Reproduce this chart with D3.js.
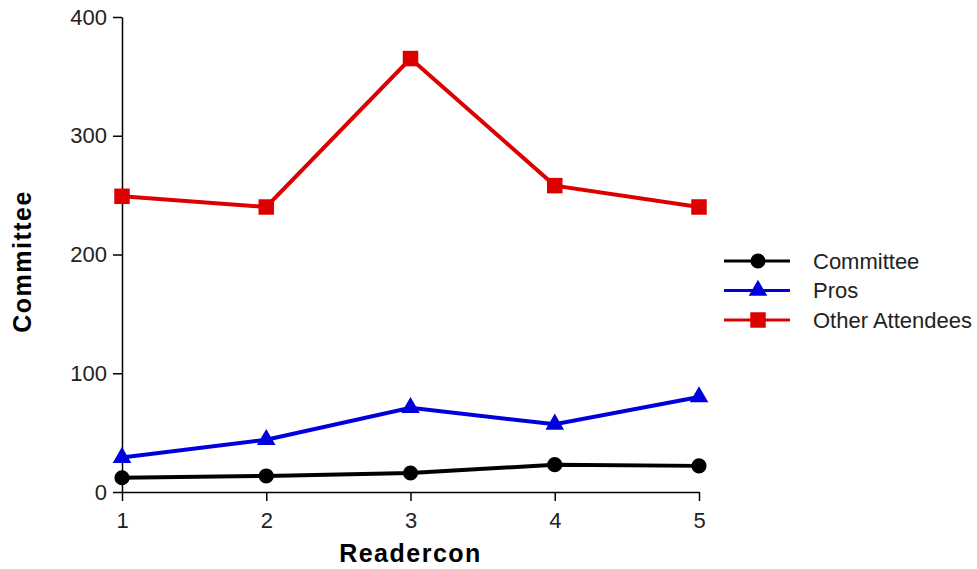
<!DOCTYPE html>
<html>
<head>
<meta charset="utf-8">
<script src="https://cdn.jsdelivr.net/npm/d3@7"></script>
<style>
  body { margin: 0; background: #fff; }
  svg text { font-family: "Liberation Sans", Arial, sans-serif; }
</style>
</head>
<body>
<div id="chart"></div>
<script>
const editions = [1, 2, 3, 4, 5];
const committee = [12, 13.5, 16, 23, 22];
const pros = [29, 44, 71, 57, 80];
const otherAttendees = [249, 240, 365, 258, 240];
const yTicks = [0, 100, 200, 300, 400];

const seriesList = [
    { name: "Committee", values: committee, color: "#000000", shape: "circle" },
    { name: "Pros", values: pros, color: "#0000dd", shape: "triangle" },
    { name: "Other Attendees", values: otherAttendees, color: "#dd0000", shape: "square" }
];

let margin = { top: 17, right: 278, bottom: 77, left: 122 };
let width = 977 - margin.left - margin.right,
    height = 569 - margin.top - margin.bottom;

var svg = d3.select("#chart").
append("svg").
attr("width", 977).
attr("height", 569).
append("g").
attr("transform", "translate(" + margin.left + "," + margin.top + ")");

var x = d3.scaleLinear().domain([1, 5]).range([0, width]);
var y = d3.scaleLinear().domain([0, 400]).range([height, 0]);

var xAxis = svg.append("g").
attr("transform", "translate(0," + height + ")").
call(d3.axisBottom(x).tickValues(editions).tickFormat(d3.format("d")).tickSize(9).tickSizeOuter(0));

var yAxis = svg.append("g").
call(d3.axisLeft(y).tickValues(yTicks).tickSize(9).tickSizeOuter(0));

[xAxis, yAxis].forEach(ax => {
    ax.attr("font-size", null).attr("font-family", null);
    ax.select(".domain").attr("stroke", "#000").attr("stroke-width", 1.5);
    ax.selectAll(".tick line").attr("stroke", "#000").attr("stroke-width", 1.5);
    ax.selectAll(".tick text").
    attr("fill", "#222").
    style("font-size", "22px");
});
xAxis.selectAll(".tick text").attr("y", 20).attr("dy", "0.71em");
yAxis.selectAll(".tick text").attr("x", -15);

function symbolFor(shape) {
    if (shape === "circle") return d3.symbol().type(d3.symbolCircle).size(180)();
    if (shape === "triangle") return d3.symbol().type(d3.symbolTriangle).size(150)();
    return d3.symbol().type(d3.symbolSquare).size(240)();
}

var line = d3.line().
x((d, i) => x(editions[i])).
y(d => y(d));

seriesList.forEach(s => {
    svg.append("path").
    datum(s.values).
    attr("fill", "none").
    attr("stroke", s.color).
    attr("stroke-width", 4).
    attr("d", line);

    svg.selectAll(".pt-" + s.shape).
    data(s.values).
    enter().
    append("path").
    attr("class", "pt-" + s.shape).
    attr("d", symbolFor(s.shape)).
    attr("fill", s.color).
    attr("transform", (d, i) => "translate(" + x(editions[i]) + "," + y(d) + ")");
});

// legend
var legend = svg.selectAll(".legend").
data(seriesList).
enter().
append("g").
attr("class", "legend").
attr("transform", (d, i) => "translate(" + (width + 25) + "," + (244 + i * 29.5) + ")");

legend.append("line").
attr("x1", 0).
attr("x2", 66).
attr("stroke", d => d.color).
attr("stroke-width", 3);

legend.append("path").
attr("d", d => symbolFor(d.shape)).
attr("fill", d => d.color).
attr("transform", "translate(34,0)");

legend.append("text").
attr("x", 89).
attr("dy", "0.36em").
attr("fill", "#222").
style("font-size", "22px").
text(d => d.name);

// axis titles
svg.append("text").
attr("x", x(3)).
attr("y", height + 70).
attr("text-anchor", "middle").
style("font-size", "25px").
style("font-weight", "bold").
style("letter-spacing", "1.5px").
text("Readercon");

svg.append("text").
attr("transform", "translate(" + (-91) + "," + (height / 2 + 7) + ") rotate(-90)").
attr("text-anchor", "middle").
style("font-size", "25px").
style("font-weight", "bold").
style("letter-spacing", "1.5px").
text("Committee");
</script>
</body>
</html>
